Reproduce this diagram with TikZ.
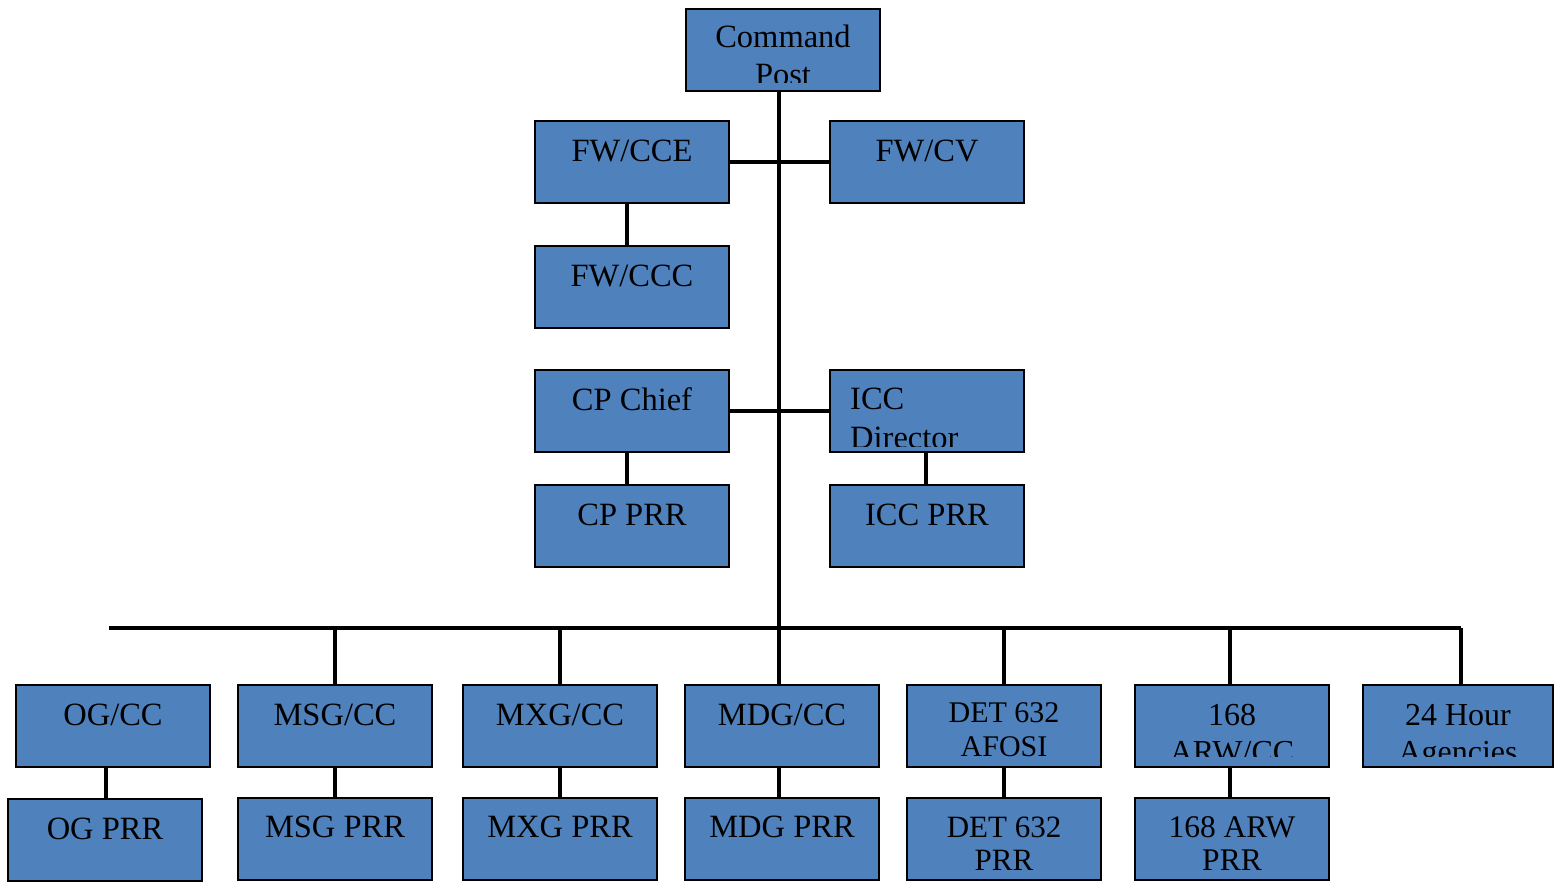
\documentclass[tikz,border=0pt]{standalone}
\usepackage{fontspec}
\setmainfont{Liberation Serif}
\definecolor{boxblue}{HTML}{4F81BD}
\tikzset{
  orgbox/.style={draw=black, line width=2pt, fill=boxblue, rectangle, outer sep=0pt,
    minimum width=194pt, minimum height=82pt, inner sep=0pt, anchor=north west},
  link/.style={line width=3.2pt, black},
  lbl/.style={font=\fontsize{32.5}{38}\selectfont, inner sep=0pt, align=center, anchor=base},
}
% [bottom text margin] name, left, top, text, extra label options
% (the label's base is its last line; text is cut at the inner margin)
\newcommand\obox[7][9]{%
  \node[orgbox,#7] (#2) at (#3,#4) {};
  \begin{scope}
    \clip (#2.north west) rectangle ([yshift=#1pt]#2.south east);
    \node[lbl,#6] at ([yshift=-40pt]#2.north) {#5};
  \end{scope}}
\newcommand\lbox[6][9]{%
  \node[orgbox] (#2) at (#3,#4) {};
  \begin{scope}
    \clip (#2.north west) rectangle ([yshift=#1pt]#2.south east);
    \node[lbl,anchor=base west,align=left,#6] at ([xshift=20pt,yshift=-39pt]#2.north west) {#5};
  \end{scope}}
\begin{document}
\begin{tikzpicture}[x=1pt,y=-1pt]
\useasboundingbox (0,0) rectangle (1554,881);

% bus and trunk points
\coordinate (busL) at (109,628);
\coordinate (busR) at (1461,628);
\coordinate (trunk) at (779,628);

% connectors (drawn first, boxes on top)
\draw[link] (busL) -- (busR);
\draw[link] (trunk) -- (779,92);

% upper section
\obox[9]{cp}{686}{9}{Command\\Post}{font=\fontsize{32.5}{38}\selectfont, yshift=-38pt, yshift=2pt}{}
\obox{cce}{535}{121}{FW/CCE}{}{}
\obox{cv}{830}{121}{FW/CV}{}{}
\obox{ccc}{535}{246}{FW/CCC}{}{}
\obox{chief}{535}{370}{CP Chief}{}{}
\lbox[6]{icc}{830}{370}{ICC\\Director}{font=\fontsize{32.5}{39}\selectfont, yshift=-39pt}
\obox{cpprr}{535}{485}{CP PRR}{}{}
\obox{iccprr}{830}{485}{ICC PRR}{}{}

\draw[link] (cce.east) -- (cv.west);
\draw[link] ([xshift=-5pt]cce.south) -- ([xshift=-5pt]ccc.north);
\draw[link, line width=4pt] (chief.east) -- (icc.west);
\draw[link] ([xshift=-5pt]chief.south) -- ([xshift=-5pt]cpprr.north);
\draw[link] ([xshift=-1pt]icc.south) -- ([xshift=-1pt]iccprr.north);

% lower row
\obox{og}{16}{685}{OG/CC}{}{}
\obox{msg}{238}{685}{MSG/CC}{}{}
\obox{mxg}{463}{685}{MXG/CC}{}{}
\obox{mdg}{685}{685}{MDG/CC}{}{}
\obox{det}{907}{685}{DET 632\\AFOSI}{font=\fontsize{30}{34}\selectfont, yshift=-32pt, yshift=1pt}{}
\obox[11]{arw}{1135}{685}{168\\ARW/CC}{font=\fontsize{32}{37}\selectfont, yshift=-37pt}{}
\obox[11]{hour}{1363}{685}{24 Hour\\Agencies}{font=\fontsize{32}{37}\selectfont, yshift=-37pt}{minimum width=190pt}

\obox[0]{ogprr}{8}{799}{OG PRR}{}{}
\obox[0]{msgprr}{238}{798}{MSG PRR}{yshift=1pt}{}
\obox[0]{mxgprr}{463}{798}{MXG PRR}{yshift=1pt}{}
\obox[0]{mdgprr}{685}{798}{MDG PRR}{yshift=1pt}{}
\obox[0]{detprr}{907}{798}{DET 632\\PRR}{font=\fontsize{31}{33}\selectfont, yshift=-32pt}{}
\obox[0]{arwprr}{1135}{798}{168 ARW\\PRR}{font=\fontsize{31.5}{33}\selectfont, yshift=-32pt}{}

% drops from the bus
\draw[link] (msg.north) -- (msg.north |- busL);
\draw[link] (mxg.north) -- (mxg.north |- busL);
\draw[link] ([xshift=-3pt]mdg.north) -- ([xshift=-3pt]mdg.north |- busL);
\draw[link] (det.north) -- (det.north |- busL);
\draw[link] ([xshift=-2pt]arw.north) -- ([xshift=-2pt]arw.north |- busL);
\draw[link] ([xshift=3pt]hour.north) -- ([xshift=3pt]hour.north |- busL);

% links to the PRR boxes
\draw[link] ([xshift=-7pt]og.south) -- ([xshift=1pt]ogprr.north);
\draw[link] (msg.south) -- (msgprr.north);
\draw[link] (mxg.south) -- (mxgprr.north);
\draw[link] ([xshift=-3pt]mdg.south) -- ([xshift=-3pt]mdgprr.north);
\draw[link] (det.south) -- (detprr.north);
\draw[link] ([xshift=-2pt]arw.south) -- ([xshift=-2pt]arwprr.north);
\end{tikzpicture}
\end{document}
